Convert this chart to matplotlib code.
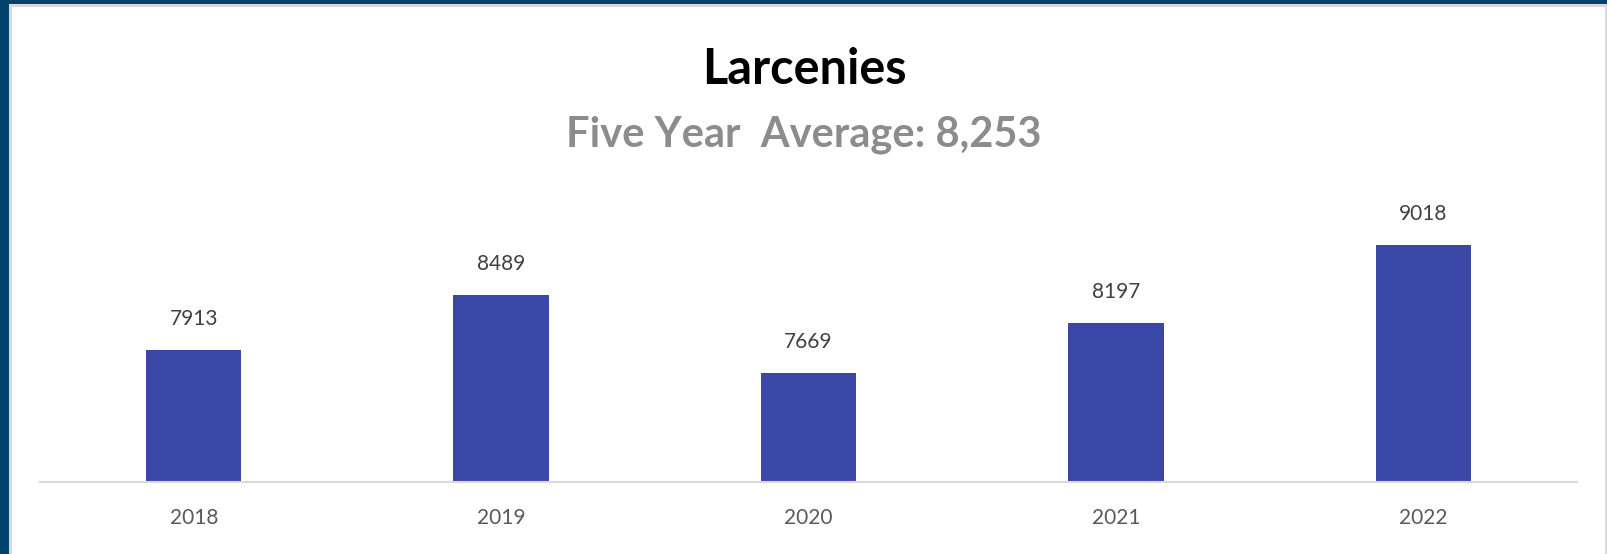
import matplotlib.pyplot as plt
from matplotlib.patches import Rectangle

years = ["2018", "2019", "2020", "2021", "2022"]
larcenies = [7913, 8489, 7669, 8197, 9018]
title = "Larcenies"
subtitle = "Five Year  Average: 8,253"

W, H, DPI = 1608, 554, 100
plt.rcParams['font.family'] = ['Lato', 'DejaVu Sans']

fig = plt.figure(figsize=(W / DPI, H / DPI), dpi=DPI, facecolor='#01426A')

# white panel with thin grey frame
panel = Rectangle((10.5 / W, -0.05), (1606 - 10.5) / W, (549 / H) + 0.05,
                  transform=fig.transFigure, facecolor='white',
                  edgecolor='#D9D9D9', linewidth=2.2, zorder=-5)
fig.patches.append(panel)

ax = fig.add_axes([40 / W, 72 / H, (1577 - 40) / W, (482 - 149) / H])
ax.set_facecolor('none')

x = range(len(years))
ax.bar(x, larcenies, width=0.31, color='#3A47A7', zorder=2)
for i, v in zip(x, larcenies):
    ax.annotate(str(v), (i, v), xytext=(0, 22), textcoords='offset points',
                ha='center', va='center', fontsize=15, color='#404040')

ax.set_xlim(-0.5, len(years) - 0.5)
ax.set_ylim(6520, 10025)
ax.set_xticks(list(x))
ax.set_xticklabels(years, fontsize=15, color='#595959')
ax.tick_params(axis='x', length=0, pad=19)
ax.set_yticks([])
for s in ['left', 'right', 'top']:
    ax.spines[s].set_visible(False)
ax.spines['bottom'].set_color('#D9D9D9')
ax.spines['bottom'].set_linewidth(1.5)

fig.text(0.5, 1 - 69 / H, title, ha='center', va='center',
         fontsize=35, fontweight='bold', color='black')
fig.text(0.5, 1 - 135 / H, subtitle, ha='center', va='center',
         fontsize=30, fontweight='bold', color='#8C8C8C')

fig.savefig('out.png', dpi=DPI, facecolor=fig.get_facecolor())
